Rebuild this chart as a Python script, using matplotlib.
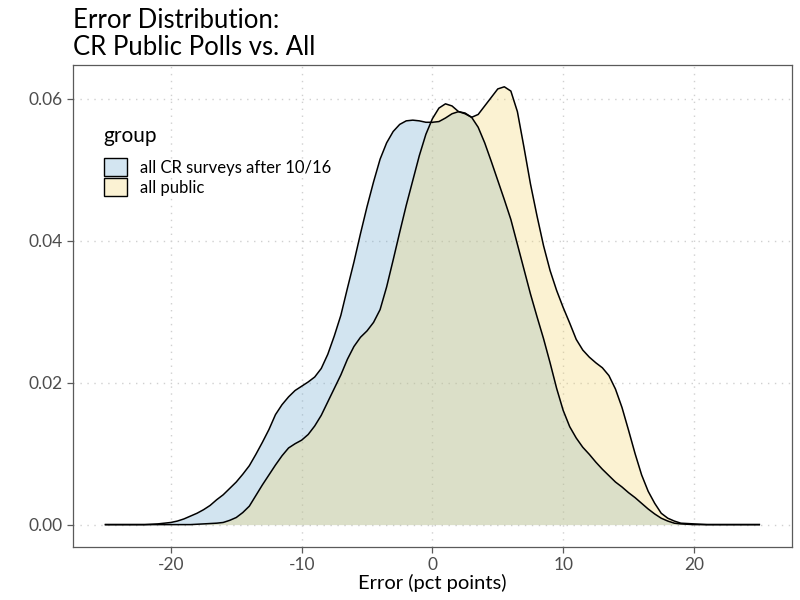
import matplotlib
matplotlib.use("Agg")
import matplotlib.pyplot as plt
from matplotlib.patches import Patch
import numpy as np

plt.rcParams['font.family'] = ['Lato', 'DejaVu Sans']

# density curves
cr_x = [-25, -22, -21, -20.5, -20, -19.5, -19, -18.5, -18, -17.5, -17, -16.5, -16, -15.5,
        -15, -14.5, -14, -13.5, -13, -12.5, -12, -11.5, -11, -10.5, -10, -9.5, -9, -8.5,
        -8, -7.5, -7, -6.5, -6, -5.5, -5, -4.5, -4, -3.5, -3, -2.5, -2, -1.5, -1, -0.5,
        0, 0.5, 1, 1.5, 2, 2.5, 3, 3.5, 4, 4.5, 5, 5.5, 6, 6.5, 7, 7.5, 8, 8.5, 9, 9.5,
        10, 10.5, 11, 11.5, 12, 12.5, 13, 13.5, 14, 14.5, 15, 15.5, 16, 16.5, 17, 17.5,
        18, 18.5, 19, 20, 25]
cr_y = [0, 0, 0.0001, 0.0002, 0.0003, 0.0005, 0.0008, 0.0012, 0.0016, 0.0021, 0.0027,
        0.0035, 0.0042, 0.0051, 0.0060, 0.0071, 0.0083, 0.0099, 0.0116, 0.0134, 0.0155,
        0.0169, 0.0180, 0.0189, 0.0195, 0.0201, 0.0208, 0.0220, 0.0240, 0.0266, 0.0295,
        0.0333, 0.0370, 0.0410, 0.0448, 0.0483, 0.0515, 0.0538, 0.0554, 0.0564, 0.0569,
        0.0570, 0.0569, 0.0567, 0.0567, 0.0568, 0.0573, 0.0579, 0.0582, 0.0580, 0.0574,
        0.0560, 0.0538, 0.0512, 0.0485, 0.0458, 0.0430, 0.0395, 0.0360, 0.0325, 0.0293,
        0.0262, 0.0228, 0.0192, 0.0161, 0.0138, 0.0122, 0.0109, 0.0099, 0.0088, 0.0078,
        0.0069, 0.0060, 0.0053, 0.0045, 0.0038, 0.0030, 0.0022, 0.0015, 0.0009, 0.0005,
        0.0002, 0.0001, 0, 0]

pub_x = [-25, -18.5, -17.5, -16.5, -16, -15.5, -15, -14.5, -14, -13.5, -13, -12.5, -12,
         -11.5, -11, -10.5, -10, -9.5, -9, -8.5, -8, -7.5, -7, -6.5, -6, -5.5, -5, -4.5,
         -4, -3.5, -3, -2.5, -2, -1.5, -1, -0.5, 0, 0.5, 1, 1.5, 2, 2.5, 3, 3.5, 4, 4.5,
         5, 5.5, 6, 6.5, 7, 7.5, 8, 8.5, 9, 9.5, 10, 10.5, 11, 11.5, 12, 12.5, 13, 13.5,
         14, 14.5, 15, 15.5, 16, 16.5, 17, 17.5, 18, 18.5, 19, 20, 21, 25]
pub_y = [0, 0, 0.0001, 0.0002, 0.0003, 0.0006, 0.0010, 0.0017, 0.0026, 0.0041, 0.0056,
         0.0070, 0.0084, 0.0097, 0.0108, 0.0114, 0.0119, 0.0127, 0.0139, 0.0154, 0.0173,
         0.0192, 0.0211, 0.0233, 0.0251, 0.0264, 0.0273, 0.0285, 0.0303, 0.0335, 0.0373,
         0.0412, 0.0450, 0.0485, 0.0520, 0.0550, 0.0572, 0.0587, 0.0593, 0.0590, 0.0582,
         0.0579, 0.0574, 0.0578, 0.0590, 0.0602, 0.0614, 0.0617, 0.0611, 0.0582, 0.0532,
         0.0480, 0.0435, 0.0393, 0.0358, 0.0330, 0.0306, 0.0284, 0.0261, 0.0246, 0.0236,
         0.0228, 0.0221, 0.0210, 0.0191, 0.0165, 0.0133, 0.0100, 0.0070, 0.0047, 0.0030,
         0.0016, 0.0009, 0.0005, 0.0002, 0.0001, 0, 0]

groups = ["all CR surveys after 10/16", "all public"]
fills = ["#6ca8d0", "#f2d46c"]
alpha = 0.3

fig = plt.figure(figsize=(8, 6), dpi=100)
ax = fig.add_axes([0.091, 0.089, 0.899, 0.803])

for (xs, ys), col in zip([(cr_x, cr_y), (pub_x, pub_y)], fills):
    ax.fill_between(xs, ys, 0, color=col, alpha=alpha, linewidth=0)
    ax.plot(xs, ys, color="black", lw=1.1, solid_joinstyle="round")

ax.set_xlim(-27.5, 27.5)
ax.set_ylim(-0.0031, 0.0648)
ax.set_xticks([-20, -10, 0, 10, 20])
ax.set_xticklabels(["-20", "-10", "0", "10", "20"])
ax.set_yticks([0, 0.02, 0.04, 0.06])
ax.set_yticklabels(["0.00", "0.02", "0.04", "0.06"])
ax.grid(True, color="#d0d0d0", linestyle=(0, (1, 4)), lw=1)
ax.set_axisbelow(True)
for s in ax.spines.values():
    s.set_color("#5a5a5a")
    s.set_linewidth(0.9)
ax.tick_params(colors="#5a5a5a", labelcolor="#4d4d4d", labelsize=12.5, length=4, width=0.9)
ax.set_xlabel("Error (pct points)", fontsize=14.5, labelpad=1)

fig.text(0.091, 0.987, "Error Distribution:\nCR Public Polls vs. All", fontsize=18.5,
         ha="left", va="top", linespacing=1.12)

def blend(c):
    rgb = np.array(matplotlib.colors.to_rgb(c))
    return tuple(1 - alpha + alpha * rgb)

handles = [Patch(facecolor=blend(c), edgecolor="black", lw=1) for c in fills]
leg = ax.legend(handles, groups, title="group", loc="upper left",
                bbox_to_anchor=(0.022, 0.905), frameon=False, fontsize=12,
                title_fontsize=15, handlelength=1.4, handleheight=1.3,
                handletextpad=0.8, labelspacing=0.12)
leg._legend_box.align = "left"
leg._legend_box.sep = 9

fig.savefig("out.png", dpi=100)
